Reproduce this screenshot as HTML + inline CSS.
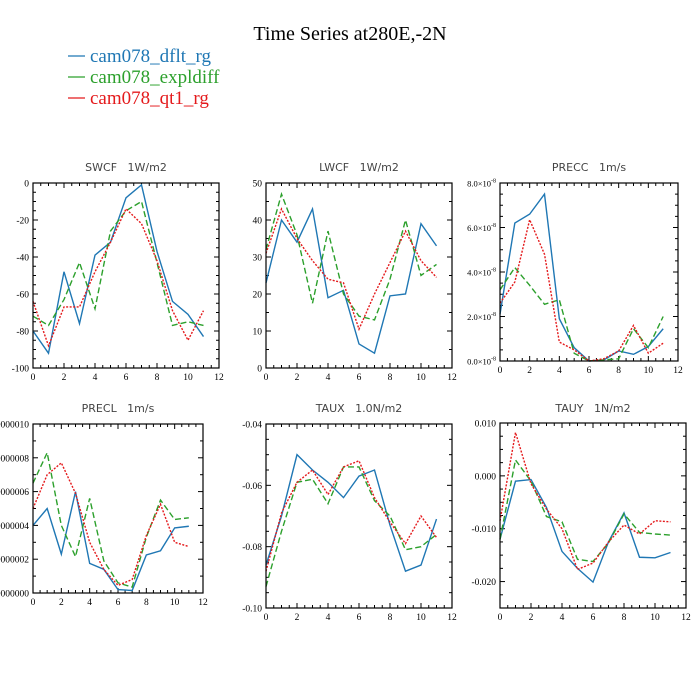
<!DOCTYPE html>
<html><head><meta charset="utf-8"><style>
html,body{margin:0;padding:0;background:#fff;}
svg{display:block;}
</style></head><body>
<svg id="chart" width="700" height="700" xmlns="http://www.w3.org/2000/svg">
<rect width="700" height="700" fill="#fff"/>
<text x="350" y="40" text-anchor="middle" font-family="Liberation Serif, serif" font-size="20" fill="#000">Time Series at280E,-2N</text>
<g>
<line x1="68" y1="56" x2="85" y2="56" stroke="#1f77b4" stroke-width="1.2"/>
<text x="90" y="62" font-family="Liberation Serif, serif" font-size="19" fill="#1f77b4">cam078_dflt_rg</text>
<line x1="68" y1="77" x2="85" y2="77" stroke="#2ca02c" stroke-width="1.2"/>
<text x="90" y="83" font-family="Liberation Serif, serif" font-size="19" fill="#2ca02c">cam078_expldiff</text>
<line x1="68" y1="98" x2="85" y2="98" stroke="#e41a1c" stroke-width="1.2"/>
<text x="90" y="104" font-family="Liberation Serif, serif" font-size="19" fill="#e41a1c">cam078_qt1_rg</text>
</g>
</svg>
<script>
const months = [0,1,2,3,4,5,6,7,8,9,10,11];
const xTicks = [0,2,4,6,8,10,12];

const swcfBlue = [-80,-92,-48,-76,-39,-32,-8,-1,-37,-64,-71,-83];
const swcfGreen = [-72,-77,-63,-43,-68,-26,-15,-10,-43,-77,-75,-77];
const swcfRed = [-64,-88,-67,-67,-48,-32,-14,-22,-42,-69,-85,-69];
const swcfTicks = [-100,-80,-60,-40,-20,0];

const lwcfBlue = [23,40,34,43,19,21,6.5,4,19.5,20,39,33];
const lwcfGreen = [32,47,36,17.5,37,20,14,13,24,40,25,28];
const lwcfRed = [31,43,35,29,24,23,10.5,20,28.5,37,29,24.5];
const lwcfTicks = [0,10,20,30,40,50];

const preccBlue = [2.1e-8,6.2e-8,6.6e-8,7.5e-8,1.9e-8,0.6e-8,0,0.05e-8,0.45e-8,0.3e-8,0.65e-8,1.45e-8];
const preccGreen = [3.2e-8,4.2e-8,3.4e-8,2.55e-8,2.75e-8,0.35e-8,0,0.05e-8,0.1e-8,1.45e-8,0.6e-8,2.0e-8];
const preccRed = [2.6e-8,3.55e-8,6.35e-8,4.8e-8,0.85e-8,0.5e-8,0,0.1e-8,0.45e-8,1.6e-8,0.35e-8,0.8e-8];
const preccTicks = [0,2e-8,4e-8,6e-8,8e-8];
const preccTickLabels = ["0.0","2.0","4.0","6.0","8.0"];

const preclBlue = [4.0e-7,5.0e-7,2.3e-7,6.0e-7,1.75e-7,1.4e-7,0.2e-7,0.15e-7,2.25e-7,2.5e-7,3.85e-7,3.95e-7];
const preclGreen = [6.5e-7,8.3e-7,4.0e-7,2.15e-7,5.6e-7,1.9e-7,0.6e-7,0.35e-7,3.3e-7,5.5e-7,4.35e-7,4.45e-7];
const preclRed = [5.0e-7,7.0e-7,7.7e-7,5.9e-7,3.0e-7,1.4e-7,0.45e-7,0.8e-7,3.4e-7,5.25e-7,3.0e-7,2.75e-7];
const preclTicks = [0,2e-7,4e-7,6e-7,8e-7,10e-7];
const preclTickLabels = ["0.0000000","0.0000002","0.0000004","0.0000006","0.0000008","0.0000010"];

const tauxBlue = [-0.086,-0.070,-0.050,-0.055,-0.059,-0.064,-0.057,-0.055,-0.073,-0.088,-0.086,-0.071];
const tauxGreen = [-0.093,-0.075,-0.059,-0.058,-0.066,-0.054,-0.054,-0.065,-0.070,-0.081,-0.080,-0.076];
const tauxRed = [-0.088,-0.069,-0.059,-0.055,-0.063,-0.054,-0.052,-0.064,-0.072,-0.079,-0.070,-0.077];
const tauxTicks = [-0.10,-0.08,-0.06,-0.04];
const tauxTickLabels = ["-0.10","-0.08","-0.06","-0.04"];

const tauyBlue = [-0.012,-0.001,-0.0007,-0.006,-0.0143,-0.0175,-0.0201,-0.0125,-0.007,-0.0154,-0.0155,-0.0145];
const tauyGreen = [-0.012,0.003,-0.001,-0.0077,-0.0087,-0.0158,-0.0162,-0.0127,-0.0072,-0.0107,-0.011,-0.0112];
const tauyRed = [-0.0085,0.0082,-0.0015,-0.0063,-0.0100,-0.0177,-0.0165,-0.0125,-0.0093,-0.0110,-0.0085,-0.0087];
const tauyTicks = [-0.020,-0.010,0.000,0.010];
const tauyTickLabels = ["-0.020","-0.010","0.000","0.010"];

const NS = "http://www.w3.org/2000/svg";
const svg = document.getElementById("chart");
function mk(tag, attrs, parent){
  const e = document.createElementNS(NS, tag);
  for (const k in attrs) e.setAttribute(k, attrs[k]);
  (parent||svg).appendChild(e);
  return e;
}
const COL = {blue:"#1f77b4", green:"#2ca02c", red:"#e41a1c"};

function panel(cfg){
  const g = mk("g", {});
  
  
  const L=cfg.l, R=cfg.r, T=cfg.t, B=cfg.b;
  const xs = v => L + (v-0)/12*(R-L);
  const ys = v => B - (v-cfg.ymin)/(cfg.ymax-cfg.ymin)*(B-T);
  const title = mk("text", {x:(L+R)/2, y:cfg.ty, "text-anchor":"middle", "font-family":"DejaVu Sans, sans-serif", "font-size":"11", fill:"#444"}, g);
  title.textContent = cfg.title.replace(/ /g, "\u00a0");
  
  
  const tk = mk("g", {stroke:"#000", "stroke-width":"1"}, g);
  
  
  for (let i=0; i<=24; i++){
    const v = i*0.5;
    const X = xs(v), major = (i%4===0), len = major?5:3;
    mk("line",{x1:X,y1:B,x2:X,y2:B-len},tk);
    mk("line",{x1:X,y1:T,x2:X,y2:T+len},tk);
  }
  const majorStep = Math.abs(cfg.ticks[1]-cfg.ticks[0]);
  const step = majorStep/cfg.minor;
  const nSteps = Math.min(200, Math.round((cfg.ymax-cfg.ymin)/step));
  for (let i=0; i<=nSteps; i++){
    const v = cfg.ymin + i*step;
    const Y = ys(v);
    const rel = (v-cfg.ticks[0])/majorStep;
    const major = Math.abs(rel-Math.round(rel))<1e-6, len = major?5:3;
    mk("line",{x1:L,y1:Y,x2:L+len,y2:Y},tk);
    mk("line",{x1:R,y1:Y,x2:R-len,y2:Y},tk);
  }
  xTicks.forEach(v=>{
    const t = mk("text",{x:xs(v), y:B+12, "text-anchor":"middle", "font-family":"Liberation Serif, serif", "font-size":"9.5", fill:"#000"}, g);
    t.textContent = v;
    
    
  });
  cfg.ticks.forEach((v,i)=>{
    const t = mk("text",{x:L-4, y:ys(v)+3.5, "text-anchor":"end", "font-family":"Liberation Serif, serif", "font-size":"9.5", fill:"#000"}, g);
    if (cfg.sci){
      t.textContent = cfg.labels[i] + "\u00d710";
      t.setAttribute("font-size","8.5");
      const s = mk("tspan",{dy:"-4","font-size":"6"},t); s.textContent = "-8";
    } else {
      t.textContent = cfg.labels ? cfg.labels[i] : v;
    }
    
    
  });
  const series = [["blue",cfg.blue,""],["green",cfg.green,"6,3"],["red",cfg.red,"2,1.5"]];
  series.forEach(([c,arr,dash])=>{
    const d = arr.map((v,i)=>(i?"L":"M")+xs(months[i]).toFixed(2)+","+ys(v).toFixed(2)).join(" ");
    const p = mk("path",{d:d, fill:"none", stroke:COL[c], "stroke-width":"1.4"}, g);
    if (dash) p.setAttribute("stroke-dasharray", dash);
    
    
  });
  const fr = mk("rect",{x:L,y:T,width:R-L,height:B-T,fill:"none",stroke:"#000","stroke-width":"1.2"}, g);
  
  
}

panel({name:"swcf", title:"SWCF   1W/m2", l:33,r:219,t:183,b:368,ty:171, ymin:-100,ymax:0, ticks:swcfTicks, minor:4, blue:swcfBlue, green:swcfGreen, red:swcfRed});
panel({name:"lwcf", title:"LWCF   1W/m2", l:266,r:452,t:183,b:368,ty:171, ymin:0,ymax:50, ticks:lwcfTicks, minor:2, blue:lwcfBlue, green:lwcfGreen, red:lwcfRed});
panel({name:"precc", title:"PRECC   1m/s", l:500,r:678,t:183,b:361,ty:171, ymin:0,ymax:8e-8, ticks:preccTicks, labels:preccTickLabels, sci:true, minor:4, blue:preccBlue, green:preccGreen, red:preccRed});
panel({name:"precl", title:"PRECL   1m/s", l:33,r:203,t:424,b:593,ty:412, ymin:0,ymax:10e-7, ticks:preclTicks, labels:preclTickLabels, minor:2, blue:preclBlue, green:preclGreen, red:preclRed});
panel({name:"taux", title:"TAUX   1.0N/m2", l:266,r:452,t:424,b:608,ty:412, ymin:-0.10,ymax:-0.04, ticks:tauxTicks, labels:tauxTickLabels, minor:4, blue:tauxBlue, green:tauxGreen, red:tauxRed});
panel({name:"tauy", title:"TAUY   1N/m2", l:500,r:686,t:423,b:608,ty:412, ymin:-0.025,ymax:0.010, ticks:tauyTicks, labels:tauyTickLabels, minor:4, blue:tauyBlue, green:tauyGreen, red:tauyRed});
</script>
</body></html>
